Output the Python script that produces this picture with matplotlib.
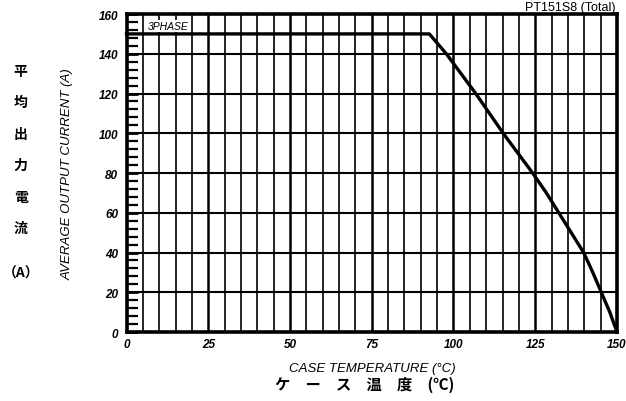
import numpy as np
import matplotlib
matplotlib.use("Agg")
import matplotlib.pyplot as plt
from matplotlib.ticker import MultipleLocator

plt.rcParams['font.family'] = ['Liberation Sans', 'Noto Sans CJK JP', 'DejaVu Sans']

# derating curve
temp = [0, 92.6, 97.8, 106.8, 115.2, 124.2, 128.4, 132.2, 136.0, 139.8, 142.6, 145.2, 147.8, 150]
current = [150, 150, 140, 120, 100, 80, 70, 60, 50, 40, 30, 20, 10, 0]

x_ticks = [0, 25, 50, 75, 100, 125, 150]
y_ticks = [0, 20, 40, 60, 80, 100, 120, 140, 160]
jp_ylabel = ["平", "均", "出", "力", "電", "流"]

JP = ['Noto Sans CJK JP', 'DejaVu Sans']

fig = plt.figure(figsize=(6.26, 4.02), dpi=100)
ax = fig.add_axes([0.2021, 0.1716, 0.7835, 0.7910])

ax.set_xlim(0, 150)
ax.set_ylim(0, 160)

# grid: thin every 5 deg, bolder every 25 deg; horizontal every 20 A
for t in np.arange(5, 150, 5):
    lw = 1.8 if t % 25 == 0 else 1.2
    ax.axvline(t, color='black', lw=lw, zorder=1)
for c in y_ticks[1:-1]:
    ax.axhline(c, color='black', lw=1.5, zorder=1)

ax.plot(temp, current, color='black', lw=2.4, zorder=3, clip_on=False)

for s in ax.spines.values():
    s.set_linewidth(2.6)
    s.set_zorder(4)

ax.set_xticks(x_ticks)
ax.set_yticks(y_ticks)
ax.yaxis.set_minor_locator(MultipleLocator(4))
ax.tick_params(axis='x', length=0, pad=4)
ax.tick_params(axis='y', which='major', direction='in', length=8, width=2, pad=6)
ax.tick_params(axis='y', which='minor', direction='in', length=8, width=1.6)
for lab in ax.get_xticklabels() + ax.get_yticklabels():
    lab.set_fontsize(8.5)
    lab.set_fontstyle('italic')
    lab.set_fontweight('bold')

ax.text(0.043, 0.963, "3PHASE", transform=ax.transAxes, fontsize=7.5, style='italic',
        va='center', ha='left', zorder=5,
        bbox=dict(facecolor='white', edgecolor='none', pad=0.5))

fig.text(0.983, 1 - 11 / 402, "PT151S8 (Total)", ha='right', va='baseline', fontsize=9)

fig.text(0.108, 0.567, "AVERAGE OUTPUT CURRENT (A)", rotation=90, ha='center', va='center',
         fontsize=9.5, style='italic')
fig.text(0.595, 0.082, "CASE TEMPERATURE (°C)", ha='center', va='center',
         fontsize=9.5, style='italic')
fig.text(0.4385, 0.042, "ケ　ー　ス　温　度　(℃)", ha='left', va='center',
         fontsize=11, fontweight='bold', family=JP)

# vertical japanese label, one character per line
for i, ch in enumerate(jp_ylabel):
    fig.text(0.033, 1 - (72 + 31.4 * i) / 402, ch, ha='center', va='center',
             fontsize=10, fontweight='bold', family=JP)
fig.text(0.033, 1 - 274 / 402, "（A）", ha='center', va='center', fontsize=10,
         fontweight='bold', family=JP)

fig.savefig("out.png", dpi=100)
